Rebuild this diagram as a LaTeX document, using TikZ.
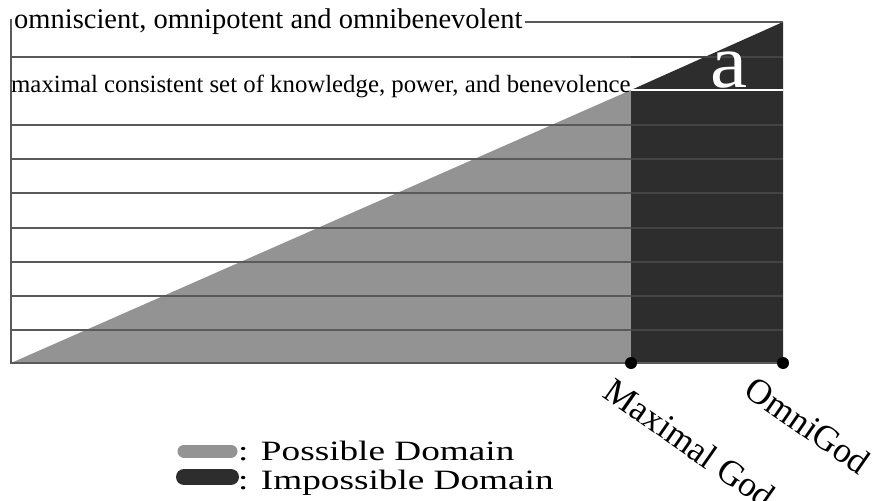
\documentclass[tikz,border=0pt]{standalone}
\usepackage{fontspec}
\setmainfont{Liberation Serif}
\newfontfamily\legfont[FakeStretch=1.33]{Liberation Serif}
\newfontfamily\afont[FakeStretch=1.1]{Liberation Serif}
\definecolor{possible}{HTML}{939393}
\definecolor{impossible}{HTML}{2D2D2D}
\definecolor{gridline}{HTML}{5A5A5A}
\definecolor{gridfaint}{HTML}{444444}
\tikzset{
  gridl/.style={draw=gridline, line width=1.3pt},
  faintl/.style={draw=gridfaint, line width=1.3pt},
  dotnode/.style={circle, fill=black, inner sep=0pt, minimum size=12pt},
  lbl/.style={font=\fontsize{35.5}{35.5}\selectfont, inner sep=0pt, rotate=-35, anchor=north west},
  legtxt/.style={font=\legfont\fontsize{28}{28}\selectfont, inner sep=0pt, anchor=base west},
  legbar/.style={line width=13pt, line cap=round},
}
\begin{document}
\begin{tikzpicture}[x=1pt,y=-1pt]
\useasboundingbox (0,0) rectangle (874,500);
% domains
\fill[possible] (11,363) -- (631,90) -- (631,363) -- cycle;
\fill[impossible] (631,363) -- (631,90) -- (783,22) -- (783,363) -- cycle;
% grid lines
\foreach \y in {125,159,193,228,262,296,330}{
  \draw[gridl] (11,\y) -- (631,\y);
  \draw[faintl] (631,\y) -- (783,\y);
}
\draw[gridl] (11,57) -- (631,57);
\draw[faintl] (631,57) -- (783,57);
\draw[draw=white, line width=1.6pt] (631,90) -- (783,90);
% axes
\draw[gridl] (11,19) -- (11,363) -- (783,363);
% texts
\node[font=\fontsize{28.5}{28.5}\selectfont, inner sep=0pt, anchor=base west] (t1) at (14,29) {omniscient, omnipotent and omnibenevolent};
\coordinate (tr) at (783,22);
\draw[gridl] ([xshift=2pt]t1.east |- tr) -- (tr);
\node[font=\fontsize{24.8}{24.8}\selectfont, inner sep=0pt, anchor=base west] (t2) at (11,93) {maximal consistent set of knowledge, power, and benevolence};
\node[font=\afont\fontsize{76}{76}\selectfont, text=white, inner sep=0pt, anchor=base] (a) at (729,88) {a};
% points
\node[dotnode] (mg) at (631,363) {};
\node[dotnode] (og) at (783,363) {};
\node[lbl] (mgl) at (616,376) {Maximal God};
\node[lbl] (ogl) at (757,374) {OmniGod};
% legend
\coordinate (pb1) at (184,451);
\coordinate (pb2) at (231,451);
\coordinate (ib1) at (184,477);
\coordinate (ib2) at (231,477);
\draw[legbar, possible] (pb1) -- (pb2);
\draw[legbar, impossible, line width=16pt] (ib1) -- (ib2);
\node[legtxt] (lp) at (238,460) {: Possible Domain};
\node[legtxt] (li) at (238,489) {: Impossible Domain};
\end{tikzpicture}
\end{document}
